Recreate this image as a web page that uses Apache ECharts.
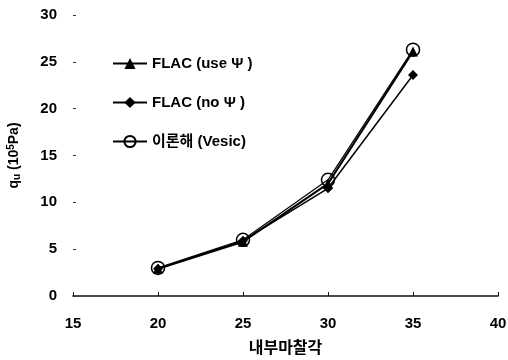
<!DOCTYPE html>
<html>
<head>
<meta charset="utf-8">
<script src="https://cdn.jsdelivr.net/npm/echarts@6/dist/echarts.min.js"></script>
<style>
  html, body { margin: 0; padding: 0; background: #fff; }
  #chart { width: 508px; height: 360px; }
</style>
</head>
<body>
<div id="chart"></div>
<script>
// Friction angle (degrees) on the x axis
const frictionAngles = [20, 25, 30, 35];
// Bearing capacity q_u (10^5 Pa)
const flacUsePsi = [2.9, 5.8, 12.0, 26.1];
const flacNoPsi = [2.9, 5.9, 11.5, 23.6];
const vesicTheory = [3.0, 6.0, 12.4, 26.3];

const seriesNames = ['FLAC (use Ψ )', 'FLAC (no Ψ )', '이론해 (Vesic)'];
const xTicks = [15, 20, 25, 30, 35, 40];
const yTicks = [0, 5, 10, 15, 20, 25, 30];

const FONT = '"Liberation Sans", "Noto Sans CJK KR", sans-serif';

function pairs(vals) {
  return frictionAngles.map((x, i) => [x, vals[i]]);
}

const chart = echarts.init(document.getElementById('chart'), null, { renderer: 'canvas' });

chart.setOption({
  animation: false,
  backgroundColor: '#fff',
  grid: { left: 73, right: 10, top: 15, bottom: 64, containLabel: false, outerBoundsMode: 'none' },
  legend: {
    orient: 'vertical',
    left: 107,
    top: 51,
    itemWidth: 34,
    itemHeight: 14,
    itemGap: 24,
    textStyle: { fontFamily: FONT, fontWeight: 'bold', fontSize: 15, color: '#000' },
    data: seriesNames
  },
  xAxis: {
    type: 'value',
    min: xTicks[0],
    max: xTicks[xTicks.length - 1],
    interval: 5,
    name: '내부마찰각',
    nameLocation: 'middle',
    nameGap: 45,
    nameTextStyle: { fontFamily: FONT, fontWeight: 'bold', fontSize: 16, color: '#000' },
    axisLine: { show: true, onZero: false, lineStyle: { color: '#111', width: 1.5 } },
    axisTick: { show: true, inside: true, length: 4, lineStyle: { color: '#111' } },
    axisLabel: { margin: 20, fontFamily: FONT, fontWeight: 'bold', fontSize: 15, color: '#000' },
    splitLine: { show: false }
  },
  yAxis: {
    type: 'value',
    min: yTicks[0],
    max: yTicks[yTicks.length - 1],
    interval: 5,
    name: 'q{sub|u} (10{sup|5}Pa)',
    nameLocation: 'middle',
    nameRotate: 90,
    nameGap: 51,
    nameTextStyle: {
      fontFamily: FONT, fontWeight: 'bold', fontSize: 14, color: '#000',
      rich: {
        sub: { fontFamily: FONT, fontWeight: 'bold', fontSize: 10, verticalAlign: 'bottom', padding: [6, 0, 0, 0] },
        sup: { fontFamily: FONT, fontWeight: 'bold', fontSize: 10, verticalAlign: 'top', padding: [0, 0, 6, 0] }
      }
    },
    axisLine: { show: false },
    axisTick: { show: true, inside: true, length: 3, lineStyle: { color: '#333' } },
    axisLabel: { margin: 16, fontFamily: FONT, fontWeight: 'bold', fontSize: 15, color: '#000' },
    splitLine: { show: false }
  },
  series: [
    {
      name: seriesNames[0],
      type: 'line',
      data: pairs(flacUsePsi),
      symbol: 'triangle',
      symbolSize: 10,
      itemStyle: { color: '#000' },
      lineStyle: { color: '#000', width: 2 },
      z: 3
    },
    {
      name: seriesNames[1],
      type: 'line',
      data: pairs(flacNoPsi),
      symbol: 'diamond',
      symbolSize: 10,
      itemStyle: { color: '#000' },
      lineStyle: { color: '#000', width: 1.5 },
      z: 3
    },
    {
      name: seriesNames[2],
      type: 'line',
      data: pairs(vesicTheory),
      symbol: 'circle',
      symbolSize: 13,
      itemStyle: { color: 'rgba(255,255,255,0)', borderColor: '#000', borderWidth: 1.5 },
      lineStyle: { color: '#000', width: 1.2 },
      z: 4
    }
  ]
});
</script>
</body>
</html>
